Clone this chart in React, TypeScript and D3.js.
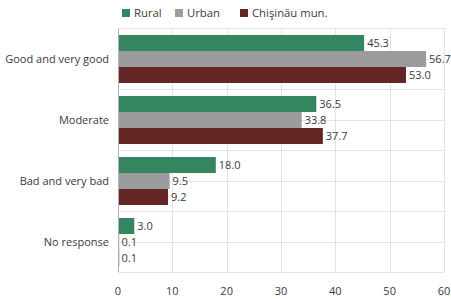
import React from 'react';
import * as d3 from 'd3';

const categories = ['Good and very good', 'Moderate', 'Bad and very bad', 'No response'];
const seriesNames = ['Rural', 'Urban', 'Chişinău mun.'];
const rural = [45.3, 36.5, 18.0, 3.0];
const urban = [56.7, 33.8, 9.5, 0.1];
const chisinau = [53.0, 37.7, 9.2, 0.1];
const xTicks = [0, 10, 20, 30, 40, 50, 60];
const colors = ['#348660', '#9c9c9e', '#632624'];

const width = 451;
const height = 299;
const left = 118;
const right = 444;
const top = 28;
const bottom = 272;
const font = "'Open Sans', 'Noto Sans', sans-serif";
const textColor = '#3a3a3a';

const App = () => {
  const values = [rural, urban, chisinau];
  const x = d3.scaleLinear().domain([0, 60]).range([left, right]);
  const y = d3.scaleBand().domain(categories).range([top, bottom]);
  const inner = d3.scaleBand().domain(seriesNames).range([7, y.bandwidth() - 6]);

  // horizontal grid every half band
  const hLines = d3.range(0, categories.length * 2 + 1).map(i => top + (i * y.bandwidth()) / 2);

  const legendX = [122, 175, 240];

  return (
    <svg width={width} height={height} style={{ position: 'absolute', left: 0, top: 0, background: '#fff' }}
      fontFamily={font}>
      <g stroke="#e4e4e4" strokeWidth={1}>
        {hLines.map((yy, i) => (
          <line key={'h' + i} x1={left} x2={right} y1={Math.round(yy) + 0.5} y2={Math.round(yy) + 0.5} />
        ))}
        {xTicks.map(t => (
          <line key={'v' + t} x1={Math.round(x(t)) + 0.5} x2={Math.round(x(t)) + 0.5} y1={top} y2={bottom} />
        ))}
      </g>
      {categories.map((c, ci) => (
        <g key={c} transform={`translate(0,${y(c)})`}>
          {seriesNames.map((s, si) => {
            const v = values[si][ci];
            const by = inner(s);
            return (
              <g key={s}>
                <rect x={x(0)} y={by} width={Math.max(x(v) - x(0), 1.2)} height={inner.bandwidth()} fill={colors[si]} />
                <text x={x(v) + 3} y={by + inner.bandwidth() / 2} dy="0.35em" fontSize={11} fill={textColor}>
                  {v.toFixed(1)}
                </text>
              </g>
            );
          })}
          <text x={109} y={y.bandwidth() / 2 + 1} dy="0.35em" textAnchor="end" fontSize={11} fill={textColor}>
            {c}
          </text>
        </g>
      ))}
      <line x1={left + 0.5} x2={left + 0.5} y1={top} y2={bottom} stroke="#b0b0b0" strokeWidth={1} />
      {xTicks.map(t => (
        <text key={'t' + t} x={x(t)} y={291} dy="0.35em" textAnchor="middle" fontSize={11} fill={textColor}>
          {t}
        </text>
      ))}
      {seriesNames.map((s, i) => (
        <g key={'l' + s} transform={`translate(${legendX[i]},9)`}>
          <rect x={0} y={0} width={8} height={8} fill={colors[i]} />
          <text x={12} y={4.5} dy="0.35em" fontSize={11.3} fill={textColor}>{s}</text>
        </g>
      ))}
    </svg>
  );
};

export default App;
